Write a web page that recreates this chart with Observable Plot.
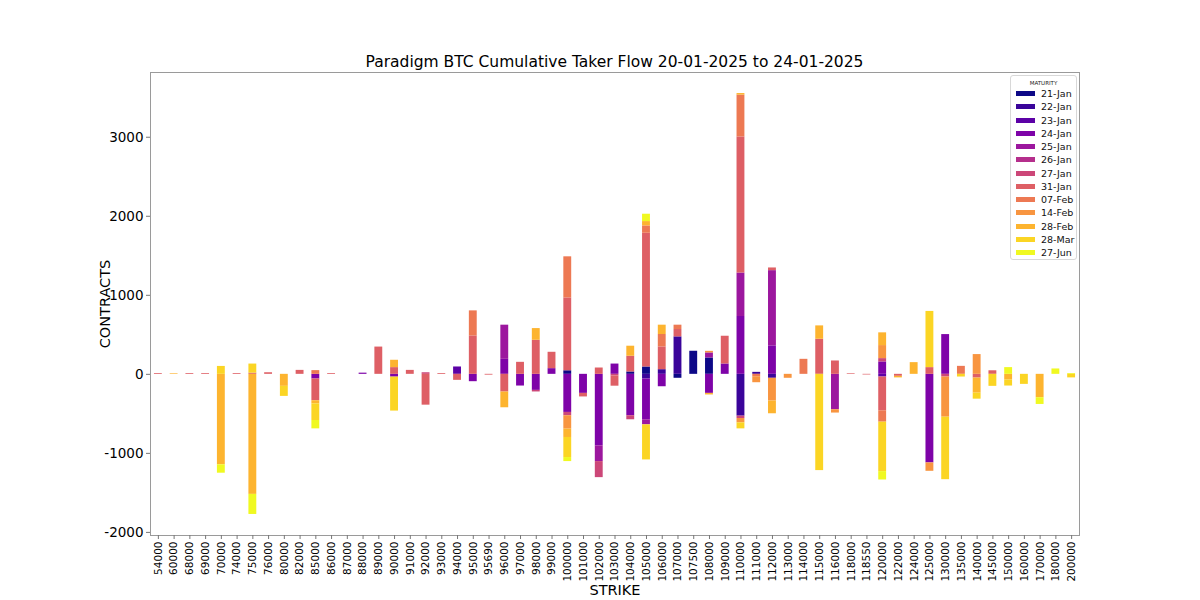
<!DOCTYPE html>
<html><head><meta charset="utf-8">
<script src="https://cdn.jsdelivr.net/npm/d3@7"></script>
<script src="https://cdn.jsdelivr.net/npm/@observablehq/plot@0.6"></script>
<style>
body{margin:0;background:#fff;font-family:"DejaVu Sans",sans-serif;color:#000;}
#wrap{position:relative;width:1200px;height:600px;overflow:hidden;}
#title{position:absolute;left:150px;width:929px;top:53px;text-align:center;font-size:15.5px;line-height:18px;}
#ylab{position:absolute;left:105px;top:304px;transform:translate(-50%,-50%) rotate(-90deg);font-size:14.5px;white-space:nowrap;}
#xlab{position:absolute;left:615px;top:590px;transform:translate(-50%,-50%);font-size:14.5px;}
#legend{position:absolute;left:1010px;top:75px;width:67px;height:185px;border:1px solid #d8d8d8;border-radius:3px;box-sizing:border-box;padding-top:3px;background:#fff;}
#legend .lt{font-size:5.5px;text-align:center;line-height:8px;color:#222;}
#legend .li{height:13.25px;line-height:13.25px;font-size:9.5px;white-space:nowrap;color:#111;}
#legend .sw{display:inline-block;width:19px;height:5px;margin-left:5px;margin-right:6px;vertical-align:middle;position:relative;top:-1px;}
</style></head><body>
<div id="wrap"><div id="chart"></div>
<div id="title">Paradigm BTC Cumulative Taker Flow 20-01-2025 to 24-01-2025</div>
<div id="ylab">CONTRACTS</div><div id="xlab">STRIKE</div>
<div id="legend"></div></div>
<script>
const strikes = [54000,60000,68000,69000,70000,74000,75000,76000,80000,82000,85000,86000,87000,88000,89000,90000,91000,92000,93000,94000,95000,95690,96000,97000,98000,99000,100000,101000,102000,103000,104000,105000,106000,107000,107500,108000,109000,110000,111000,112000,113000,114000,115000,116000,118000,118550,120000,122000,124000,125000,130000,135000,140000,145000,150000,160000,170000,180000,200000];
const maturities = ["21-Jan","22-Jan","23-Jan","24-Jan","25-Jan","26-Jan","27-Jan","31-Jan","07-Feb","14-Feb","28-Feb","28-Mar","27-Jun"];
const yTicks = [-2000,-1000,0,1000,2000,3000];

// [strike, contracts] per maturity
const jan21 = [[100000,45],[104000,30],[105000,93],[107000,-50],[107500,292],[108000,207]];
const jan22 = [[105000,-59],[106000,59],[107000,474],[110000,-529],[111000,25],[112000,-50]];
const jan23 = [[94000,93],[120000,-34]];
const jan24 = [[85000,-59],[88000,15],[90000,-35],[95000,-93],[96000,190],[97000,-148],[98000,-203],[99000,72],[100000,-482],[101000,-241],[102000,-905],[103000,130],[104000,-524],[105000,-516],[106000,-157],[108000,-241],[109000,131],[110000,732],[112000,360],[120000,157],[125000,-1121],[130000,503]];
const jan25 = [[96000,432],[102000,-199],[105000,-64],[108000,64],[110000,550],[112000,952],[116000,-448]];
const jan26 = [];
const jan27 = [[92000,20],[98000,-20],[100000,-42],[102000,-203],[103000,-20],[104000,-51],[110000,-30],[120000,42],[130000,-34]];
const jan31 = [[54000,10],[68000,10],[69000,10],[74000,10],[75000,15],[76000,20],[82000,50],[85000,-275],[86000,10],[89000,345],[90000,85],[91000,50],[92000,-390],[93000,10],[94000,-76],[95000,486],[95690,-10],[96000,-224],[97000,152],[98000,431],[99000,207],[100000,922],[101000,-45],[102000,80],[103000,-130],[104000,199],[105000,1692],[106000,288],[107000,93],[109000,351],[110000,1722],[112000,34],[115000,444],[116000,169],[118000,8],[118550,-8],[120000,-427],[122000,-25],[125000,85],[140000,-47],[145000,45]];
const feb07 = [[85000,47],[95000,317],[100000,520],[105000,93],[106000,157],[107000,55],[110000,529],[111000,-30],[114000,190],[120000,-144],[135000,101]];
const feb14 = [[100000,-169],[108000,20],[110000,-55],[111000,-76],[112000,-288],[113000,-50],[116000,-42],[120000,165],[125000,-106],[130000,-508],[140000,250]];
const feb28 = [[60000,8],[70000,-1145],[75000,-1519],[80000,-152],[85000,-40],[90000,93],[96000,-199],[98000,148],[100000,-106],[104000,127],[105000,55],[106000,118],[108000,-20],[110000,20],[112000,-161],[115000,169],[120000,161],[122000,-20],[124000,148],[140000,-191],[150000,-72],[170000,-296]];
const mar28 = [[70000,100],[75000,115],[80000,-127],[85000,-210],[90000,-430],[100000,-254],[105000,-444],[110000,-76],[115000,-1218],[120000,-626],[125000,711],[130000,-791],[135000,-34],[140000,-76],[145000,-152],[150000,-76],[160000,-127],[200000,-45]];
const jun27 = [[70000,-106],[75000,-254],[85000,-106],[100000,-51],[105000,93],[120000,-106],[150000,85],[170000,-85],[180000,68],[200000,10]];

const seriesValues = [jan21,jan22,jan23,jan24,jan25,jan26,jan27,jan31,feb07,feb14,feb28,mar28,jun27];
const rows = [];
seriesValues.forEach((arr,i)=>arr.forEach(([k,v])=>rows.push({strike:String(k),maturity:maturities[i],value:v})));

const colors = maturities.map((m,i)=>d3.interpolatePlasma(i/(maturities.length-1)));

// matplotlib-like 5% margins on stacked extents
const pos = d3.rollup(rows.filter(r=>r.value>0), v=>d3.sum(v,d=>d.value), d=>d.strike);
const neg = d3.rollup(rows.filter(r=>r.value<0), v=>d3.sum(v,d=>d.value), d=>d.strike);
const ymax = d3.max(pos.values()), ymin = d3.min(neg.values());
const pad = (ymax-ymin)*0.05;

const chart = Plot.plot({
  width:1200, height:600,
  marginLeft:150, marginRight:121, marginTop:72, marginBottom:65,
  style:{fontFamily:"DejaVu Sans, sans-serif", background:"transparent", color:"#000"},
  x:{type:"band", domain:strikes.map(String), paddingInner:0.5, paddingOuter:0.25},
  y:{domain:[ymin-pad, ymax+pad]},
  color:{domain:maturities, range:colors},
  marks:[
    Plot.barY(rows, Plot.stackY({x:"strike", y:"value", z:"maturity", fill:"maturity", order:maturities})),
    Plot.frame({stroke:"#9a9a9a"}),
    Plot.axisX({tickRotate:-90, tickSize:4, tickPadding:2, fontSize:10.5, label:null, stroke:"#777"}),
    Plot.axisY({ticks:yTicks, tickSize:4, tickPadding:3, fontSize:13.5, tickFormat:d=>String(d), label:null, stroke:"#777"})
  ]
});
document.getElementById("chart").appendChild(chart);

document.getElementById("legend").innerHTML = `<div class="lt">MATURITY</div>` +
  maturities.map((m,i)=>`<div class="li"><span class="sw" style="background:${colors[i]}"></span>${m}</div>`).join("");
</script>
</body></html>
